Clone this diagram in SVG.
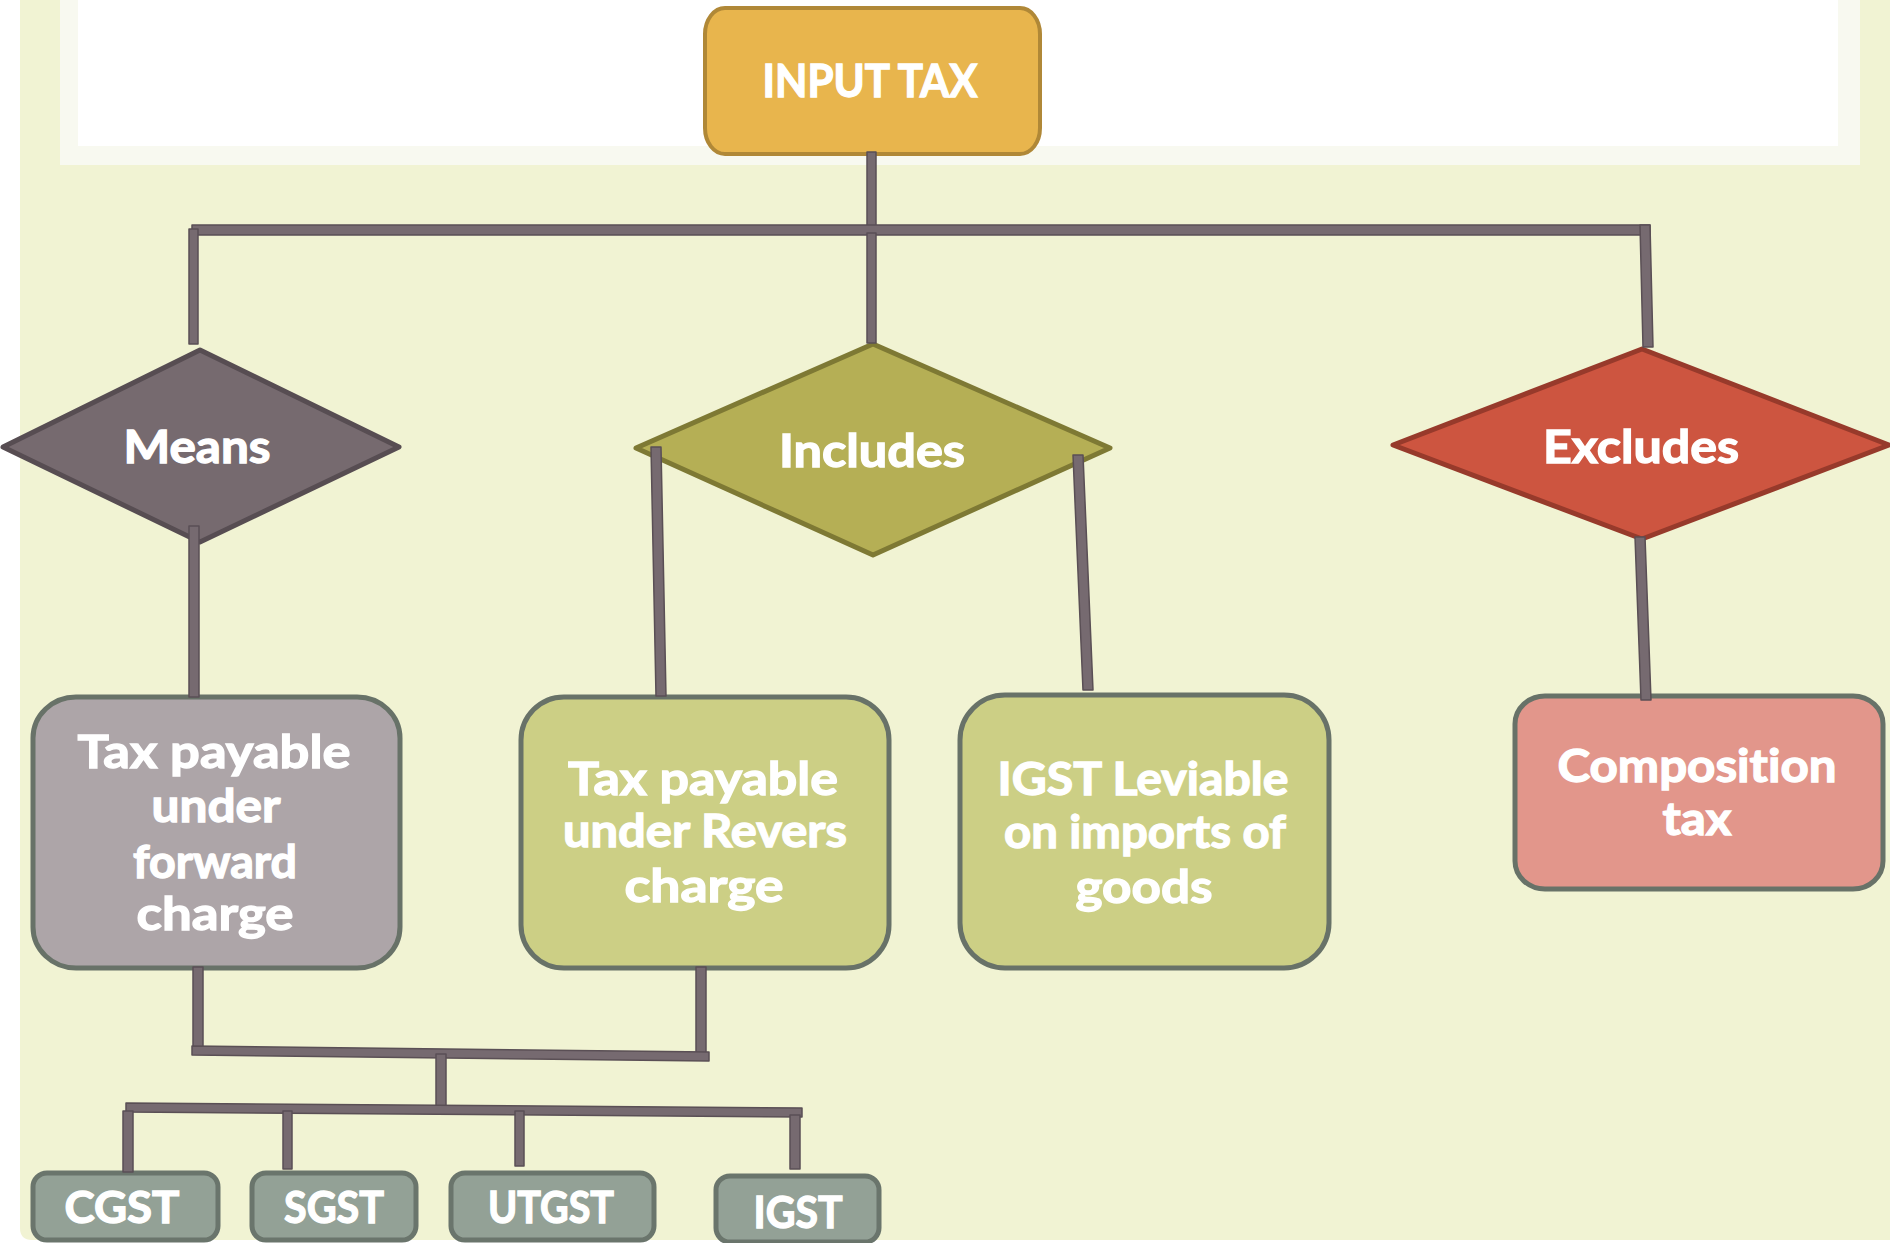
<svg xmlns="http://www.w3.org/2000/svg" width="1890" height="1243" viewBox="0 0 1890 1243">
  <style>
    .lbl { font-family: "Lato", "Liberation Sans", "DejaVu Sans", sans-serif; font-weight: 700; fill: #ffffff; stroke: #ffffff; stroke-width: 1.3; text-anchor: middle; font-variant-ligatures: none; }
    .big { font-size: 46px; }
    .small { font-size: 43px; }
    .box { stroke: #687268; stroke-width: 5; }
    .tag { fill: #93A196; stroke: #6A756C; stroke-width: 5; }
    .wire { fill: #766A70; stroke: #5A4F55; stroke-width: 1.5; stroke-linejoin: round; }
  </style>

  <!-- page background -->
  <rect x="0" y="0" width="1890" height="1243" fill="#ffffff"/>
  <path d="M20,0 H1890 V1240 H32 Q20,1240 20,1228 Z" fill="#F1F3D3"/>
  <rect x="60" y="0" width="1800" height="165" fill="#F8F9F0"/>
  <rect x="78" y="0" width="1760" height="146" fill="#FFFFFF"/>

  <!-- root -->
  <g id="input-tax">
    <rect x="705" y="8" width="335" height="146" rx="20" ry="26" fill="#E8B54D" stroke="#B08837" stroke-width="4"/>
    <text class="lbl big" x="870" y="97" textLength="215" lengthAdjust="spacingAndGlyphs">INPUT TAX</text>
  </g>

  <!-- decision diamonds -->
  <g id="means">
    <polygon points="3,447 200,350 399,447 200,542" fill="#766A6F" stroke="#574D52" stroke-width="5" stroke-linejoin="round"/>
    <text class="lbl big" x="197" y="463" textLength="147" lengthAdjust="spacingAndGlyphs">Means</text>
  </g>
  <g id="includes">
    <polygon points="636,448 873,344 1110,448 873,555" fill="#B5AF55" stroke="#7E7934" stroke-width="5" stroke-linejoin="round"/>
    <text class="lbl big" x="872" y="467" textLength="186" lengthAdjust="spacingAndGlyphs">Includes</text>
  </g>
  <g id="excludes">
    <polygon points="1393,445 1642,349 1889,445 1642,539" fill="#CD5540" stroke="#973A2B" stroke-width="5" stroke-linejoin="round"/>
    <text class="lbl big" x="1641" y="463" textLength="196" lengthAdjust="spacingAndGlyphs">Excludes</text>
  </g>

  <!-- detail boxes -->
  <g id="forward-charge">
    <rect class="box" x="33" y="697" width="367" height="271" rx="43" ry="41" fill="#ADA5A8"/>
    <text class="lbl big" x="214" y="768" textLength="273" lengthAdjust="spacingAndGlyphs">Tax payable</text>
    <text class="lbl big" x="216" y="822" textLength="129" lengthAdjust="spacingAndGlyphs">under</text>
    <text class="lbl big" x="215" y="878" textLength="164" lengthAdjust="spacingAndGlyphs">forward</text>
    <text class="lbl big" x="215" y="930" textLength="157" lengthAdjust="spacingAndGlyphs">charge</text>
  </g>
  <g id="reverse-charge">
    <rect class="box" x="521" y="697" width="368" height="271" rx="43" ry="43" fill="#CCCF85"/>
    <text class="lbl big" x="703" y="795" textLength="270" lengthAdjust="spacingAndGlyphs">Tax payable</text>
    <text class="lbl big" x="705" y="847" textLength="284" lengthAdjust="spacingAndGlyphs">under Revers</text>
    <text class="lbl big" x="704" y="902" textLength="159" lengthAdjust="spacingAndGlyphs">charge</text>
  </g>
  <g id="igst-imports">
    <rect class="box" x="960" y="695" width="369" height="273" rx="45" ry="45" fill="#CCCF85"/>
    <text class="lbl big" x="1143" y="795" textLength="291" lengthAdjust="spacingAndGlyphs">IGST Leviable</text>
    <text class="lbl big" x="1145" y="848" textLength="282" lengthAdjust="spacingAndGlyphs">on imports of</text>
    <text class="lbl big" x="1144" y="903" textLength="137" lengthAdjust="spacingAndGlyphs">goods</text>
  </g>
  <g id="composition-tax">
    <rect class="box" x="1515" y="696" width="368" height="193" rx="30" ry="28" fill="#E2968B"/>
    <text class="lbl big" x="1697" y="782" textLength="279" lengthAdjust="spacingAndGlyphs">Composition</text>
    <text class="lbl big" x="1697" y="835" textLength="69" lengthAdjust="spacingAndGlyphs">tax</text>
  </g>

  <!-- tax components -->
  <g id="cgst">
    <rect class="tag" x="33" y="1173" width="185" height="67" rx="14"/>
    <text class="lbl small" x="122" y="1223" textLength="115" lengthAdjust="spacingAndGlyphs">CGST</text>
  </g>
  <g id="sgst">
    <rect class="tag" x="252" y="1173" width="164" height="67" rx="14"/>
    <text class="lbl small" x="334" y="1223" textLength="100" lengthAdjust="spacingAndGlyphs">SGST</text>
  </g>
  <g id="utgst">
    <rect class="tag" x="451" y="1173" width="203" height="67" rx="14"/>
    <text class="lbl small" x="551" y="1223" textLength="126" lengthAdjust="spacingAndGlyphs">UTGST</text>
  </g>
  <g id="igst">
    <rect class="tag" x="716" y="1176" width="163" height="66" rx="14"/>
    <text class="lbl small" x="798" y="1228" textLength="89" lengthAdjust="spacingAndGlyphs">IGST</text>
  </g>

  <!-- connectors -->
  <g id="connectors">
    <polygon class="wire" points="867,152 876,152 876,231 867,231"/>
    <polygon class="wire" points="192,225 1650,225 1650,235 192,235"/>
    <polygon class="wire" points="189,229 198,229 198,344 189,344"/>
    <polygon class="wire" points="867,233 876,233 876,343 867,343"/>
    <polygon class="wire" points="1640,225 1650,225 1653,347 1643,347"/>
    <polygon class="wire" points="189,526 199,526 199,697 189,697"/>
    <polygon class="wire" points="651,447 661,447 666,696 656,696"/>
    <polygon class="wire" points="1073,455 1083,455 1093,690 1083,690"/>
    <polygon class="wire" points="1635,537 1645,537 1651,700 1641,700"/>
    <polygon class="wire" points="193,967 203,967 203,1050 193,1050"/>
    <polygon class="wire" points="696,967 706,967 706,1055 696,1055"/>
    <polygon class="wire" points="192,1046 709,1052 709,1061 192,1055"/>
    <polygon class="wire" points="436,1054 446,1054 446,1108 436,1108"/>
    <polygon class="wire" points="126,1103 802,1108 802,1117 126,1112"/>
    <polygon class="wire" points="123,1111 133,1111 133,1172 123,1172"/>
    <polygon class="wire" points="283,1111 292,1111 292,1169 283,1169"/>
    <polygon class="wire" points="515,1111 524,1111 524,1166 515,1166"/>
    <polygon class="wire" points="790,1115 800,1115 800,1169 790,1169"/>
  </g>
</svg>
